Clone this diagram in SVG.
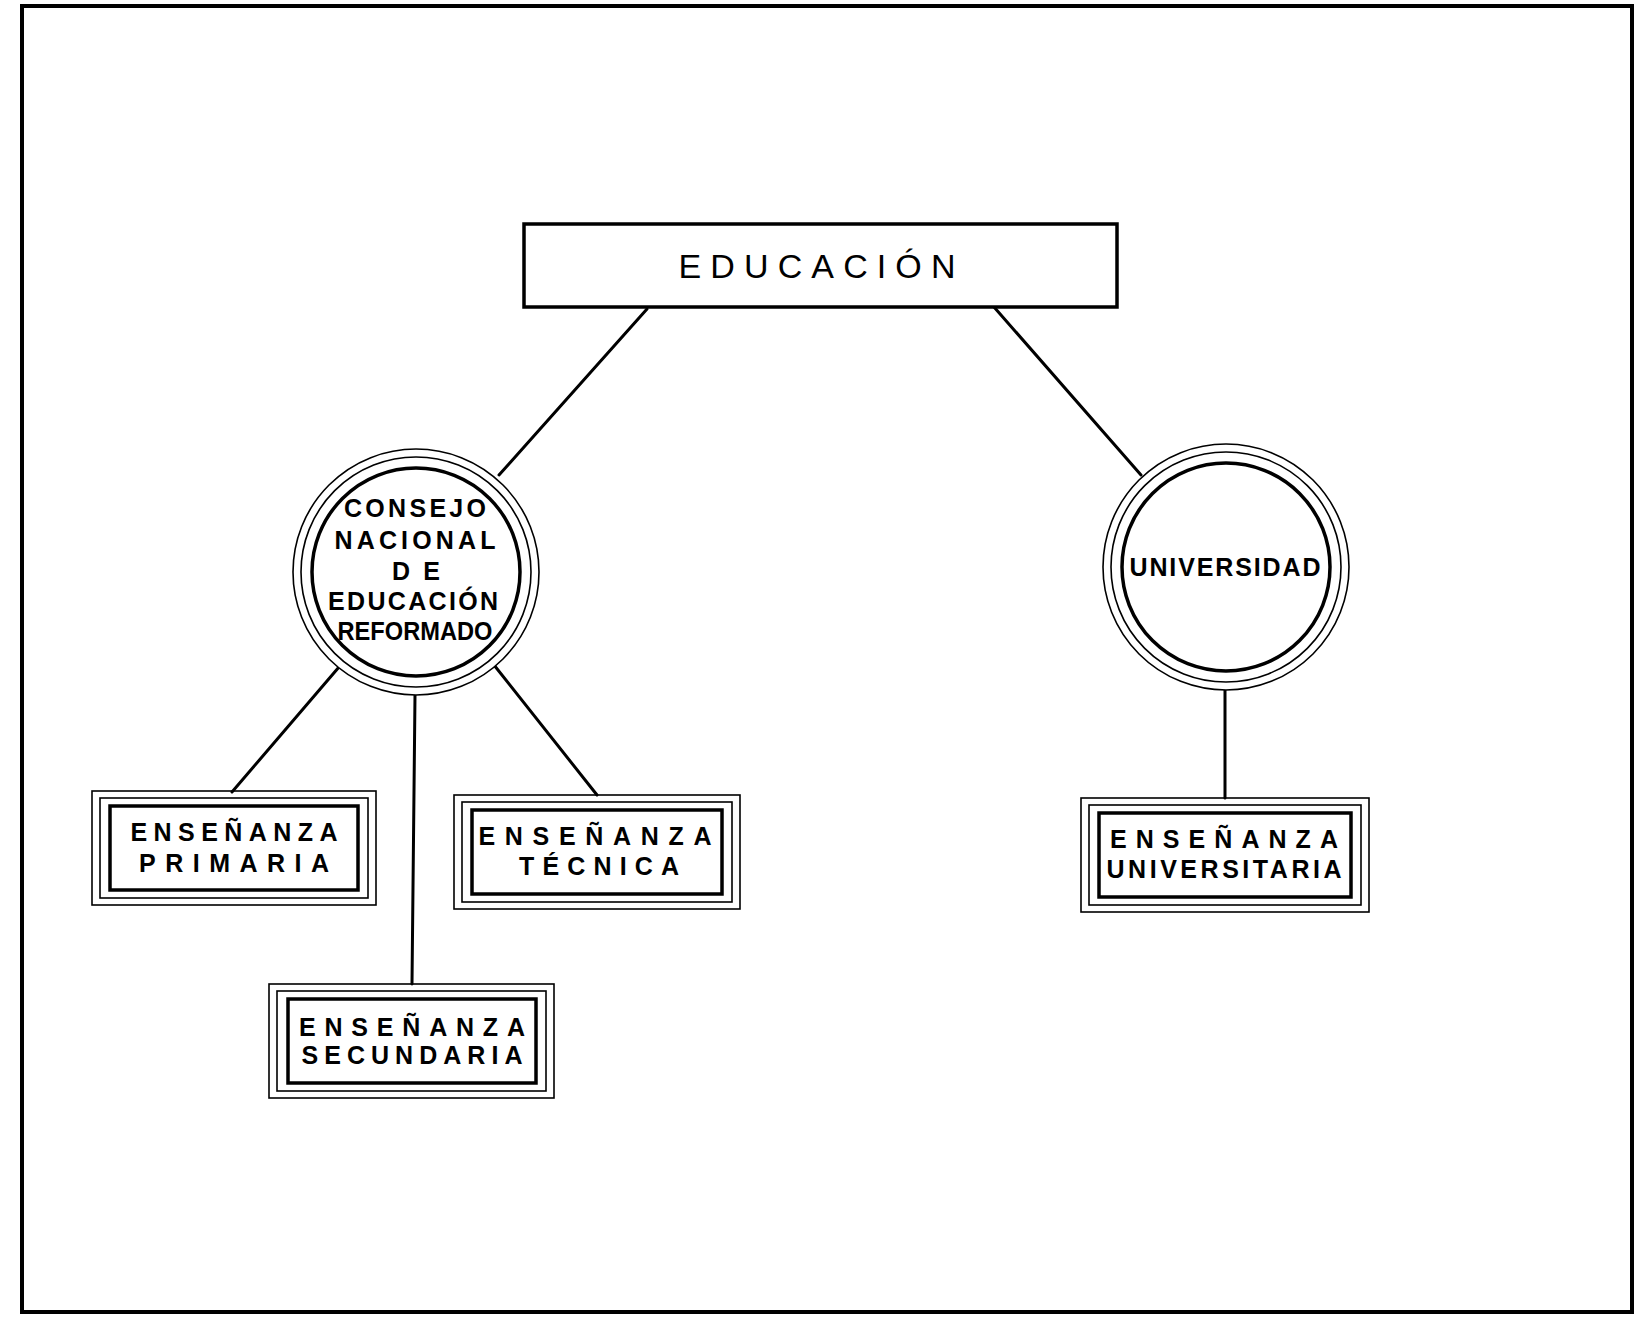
<svg xmlns="http://www.w3.org/2000/svg" width="1636" height="1317" viewBox="0 0 1636 1317">
<style>
.bg{fill:#fff}
.frame{fill:none;stroke:#000;stroke-width:4}
.thin{fill:none;stroke:#000;stroke-width:1.6}
.thick{fill:none;stroke:#000;stroke-width:3.5}
.box{fill:#fff;stroke:#000;stroke-width:3.5}
.conn line{stroke:#000;stroke-width:3;stroke-linecap:round}
text{font-family:"Liberation Sans","DejaVu Sans",sans-serif;font-weight:bold;fill:#000;text-anchor:middle}
.t{font-size:25px}
.big{font-size:34px;font-weight:normal}
.c{font-size:25px}
</style>
<rect class="bg" x="0" y="0" width="1636" height="1317"/>
<rect class="frame" x="22" y="6" width="1610" height="1306"/>
<g id="connectors" class="conn">
<line x1="647" y1="309" x2="499" y2="475"/>
<line x1="994" y1="307" x2="1141" y2="475"/>
<line x1="339" y1="667" x2="232" y2="792"/>
<line x1="415" y1="695" x2="412" y2="984"/>
<line x1="494" y1="665" x2="597" y2="795"/>
<line x1="1225" y1="690" x2="1225" y2="798"/>
</g>
<g id="educacion">
<rect class="box" x="524" y="224" width="593" height="83"/>
<text class="big" x="817" y="278" textLength="277" lengthAdjust="spacing">EDUCACIÓN</text>
</g>
<g id="consejo">
<circle cx="416" cy="572" r="123" fill="#fff" stroke="#000" stroke-width="1.6"/>
<circle class="thin" cx="416" cy="572" r="115"/>
<circle class="thick" cx="416" cy="572" r="104"/>
<text class="c" x="415" y="517" textLength="142" lengthAdjust="spacing">CONSEJO</text>
<text class="c" x="415" y="549" textLength="161" lengthAdjust="spacing">NACIONAL</text>
<text class="c" x="416" y="580" textLength="48" lengthAdjust="spacing">DE</text>
<text class="c" x="413" y="610" textLength="170" lengthAdjust="spacing">EDUCACIÓN</text>
<text class="c" x="415" y="640" font-size="23" textLength="155" lengthAdjust="spacingAndGlyphs">REFORMADO</text>
</g>
<g id="universidad">
<circle cx="1226" cy="567" r="123" fill="#fff" stroke="#000" stroke-width="1.6"/>
<circle class="thin" cx="1226" cy="567" r="115"/>
<circle class="thick" cx="1226" cy="567" r="104"/>
<text class="t" x="1225" y="576" font-size="23" textLength="191" lengthAdjust="spacing">UNIVERSIDAD</text>
</g>
<g id="primaria">
<rect class="thin" x="92" y="791" width="284" height="114" fill="#fff"/>
<rect class="thin" x="100" y="798" width="268" height="100"/>
<rect class="thick" x="110" y="806" width="248" height="84"/>
<text class="t" x="234" y="841" textLength="207" lengthAdjust="spacing">ENSEÑANZA</text>
<text class="t" x="234" y="872" textLength="190" lengthAdjust="spacing">PRIMARIA</text>
</g>
<g id="tecnica">
<rect class="thin" x="454" y="795" width="286" height="114" fill="#fff"/>
<rect class="thin" x="462" y="802" width="270" height="100"/>
<rect class="thick" x="472" y="810" width="250" height="84"/>
<text class="t" x="595" y="845" textLength="233" lengthAdjust="spacing">ENSEÑANZA</text>
<text class="t" x="599" y="875" textLength="160" lengthAdjust="spacing">TÉCNICA</text>
</g>
<g id="secundaria">
<rect class="thin" x="269" y="984" width="285" height="114" fill="#fff"/>
<rect class="thin" x="277" y="991" width="269" height="100"/>
<rect class="thick" x="288" y="999" width="248" height="84"/>
<text class="t" x="412" y="1036" textLength="226" lengthAdjust="spacing">ENSEÑANZA</text>
<text class="t" x="412" y="1064" textLength="221" lengthAdjust="spacing">SECUNDARIA</text>
</g>
<g id="universitaria">
<rect class="thin" x="1081" y="798" width="288" height="114" fill="#fff"/>
<rect class="thin" x="1089" y="805" width="272" height="100"/>
<rect class="thick" x="1099" y="813" width="252" height="84"/>
<text class="t" x="1224" y="848" textLength="228" lengthAdjust="spacing">ENSEÑANZA</text>
<text class="t" x="1224" y="878" textLength="235" lengthAdjust="spacing">UNIVERSITARIA</text>
</g>
</svg>
